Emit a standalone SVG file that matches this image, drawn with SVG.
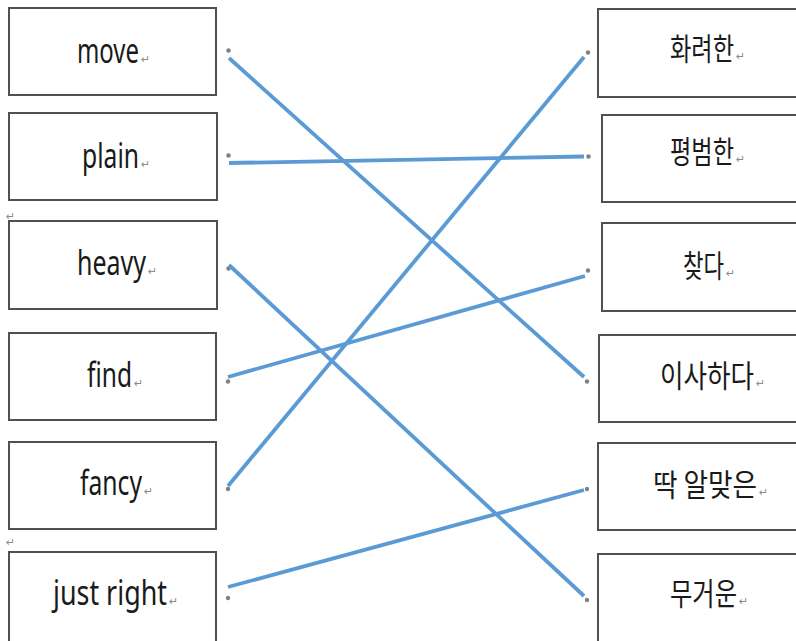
<svg xmlns="http://www.w3.org/2000/svg" width="796" height="641" viewBox="0 0 796 641">
<style>
.box{fill:#fff;stroke:#505050;stroke-width:2}
.en{font-family:"Noto Sans","Noto Sans CJK KR",sans-serif;font-size:34px;fill:#1a1a1a}
.ko{font-family:"Noto Sans CJK KR","Noto Sans",sans-serif;font-size:31px;fill:#1a1a1a}
.pm{font-family:"DejaVu Sans",sans-serif;font-size:11px;fill:#8a8a8a}
.dot{fill:#808080}
.ln{stroke:#5b9bd5;stroke-width:3.8;fill:none}
</style>
<rect width="796" height="641" fill="#fff"/>
<text class="pm" x="6" y="220">↵</text>
<text class="pm" x="6" y="546">↵</text>
<g id="n-move"><rect class="box" x="9" y="8" width="207" height="87"/><text class="en" x="77" y="63"><tspan textLength="62" lengthAdjust="spacingAndGlyphs">move</tspan><tspan class="pm" dx="2">↵</tspan></text><circle class="dot" cx="228.5" cy="50.5" r="2.2"/></g>
<g id="n-plain"><rect class="box" x="9" y="113" width="208" height="87"/><text class="en" x="82" y="168"><tspan textLength="57" lengthAdjust="spacingAndGlyphs">plain</tspan><tspan class="pm" dx="2">↵</tspan></text><circle class="dot" cx="228.5" cy="155.5" r="2.2"/></g>
<g id="n-heavy"><rect class="box" x="9" y="221" width="208" height="88"/><text class="en" x="77" y="275"><tspan textLength="69" lengthAdjust="spacingAndGlyphs">heavy</tspan><tspan class="pm" dx="2">↵</tspan></text><circle class="dot" cx="228.5" cy="268.5" r="2.2"/></g>
<g id="n-find"><rect class="box" x="9" y="333" width="207" height="87"/><text class="en" x="87" y="387"><tspan textLength="45" lengthAdjust="spacingAndGlyphs">find</tspan><tspan class="pm" dx="2">↵</tspan></text><circle class="dot" cx="228" cy="381.5" r="2.2"/></g>
<g id="n-fancy"><rect class="box" x="9" y="442" width="207" height="87"/><text class="en" x="80" y="495"><tspan textLength="62" lengthAdjust="spacingAndGlyphs">fancy</tspan><tspan class="pm" dx="2">↵</tspan></text><circle class="dot" cx="228" cy="489" r="2.2"/></g>
<g id="n-justright"><rect class="box" x="9" y="552" width="207" height="95"/><text class="en" x="53" y="605"><tspan textLength="114" lengthAdjust="spacingAndGlyphs">just right</tspan><tspan class="pm" dx="2">↵</tspan></text><circle class="dot" cx="228" cy="598" r="2.2"/></g>
<g id="n-hwaryeohan"><rect class="box" x="598" y="9" width="205" height="88"/><text class="ko" x="670" y="60"><tspan textLength="64" lengthAdjust="spacingAndGlyphs">화려한</tspan><tspan class="pm" dx="2">↵</tspan></text><circle class="dot" cx="588" cy="52.5" r="2.2"/></g>
<g id="n-pyeongbeomhan"><rect class="box" x="602" y="115" width="201" height="87"/><text class="ko" x="670" y="163"><tspan textLength="64" lengthAdjust="spacingAndGlyphs">평범한</tspan><tspan class="pm" dx="2">↵</tspan></text><circle class="dot" cx="588.5" cy="156.5" r="2.2"/></g>
<g id="n-chatda"><rect class="box" x="602" y="223" width="201" height="88"/><text class="ko" x="683" y="277"><tspan textLength="41" lengthAdjust="spacingAndGlyphs">찾다</tspan><tspan class="pm" dx="2">↵</tspan></text><circle class="dot" cx="588" cy="270.5" r="2.2"/></g>
<g id="n-isahada"><rect class="box" x="599" y="335" width="204" height="87"/><text class="ko" x="660" y="387"><tspan textLength="94" lengthAdjust="spacingAndGlyphs">이사하다</tspan><tspan class="pm" dx="2">↵</tspan></text><circle class="dot" cx="587" cy="381.5" r="2.2"/></g>
<g id="n-ttakalmajeun"><rect class="box" x="598" y="443" width="205" height="87"/><text class="ko" x="653" y="496"><tspan textLength="104" lengthAdjust="spacingAndGlyphs">딱 알맞은</tspan><tspan class="pm" dx="2">↵</tspan></text><circle class="dot" cx="587" cy="489" r="2.2"/></g>
<g id="n-mugeoun"><rect class="box" x="598" y="554" width="205" height="95"/><text class="ko" x="670" y="605"><tspan textLength="67" lengthAdjust="spacingAndGlyphs">무거운</tspan><tspan class="pm" dx="2">↵</tspan></text><circle class="dot" cx="587" cy="600" r="2.2"/></g>
<g id="connectors">
<line class="ln" x1="229" y1="58" x2="584" y2="377"/>
<line class="ln" x1="229" y1="163" x2="584" y2="156.5"/>
<line class="ln" x1="229" y1="265" x2="584" y2="596"/>
<line class="ln" x1="228" y1="377" x2="585" y2="276"/>
<line class="ln" x1="228" y1="486" x2="584" y2="57"/>
<line class="ln" x1="228" y1="587" x2="584" y2="490"/>
</g>
</svg>
